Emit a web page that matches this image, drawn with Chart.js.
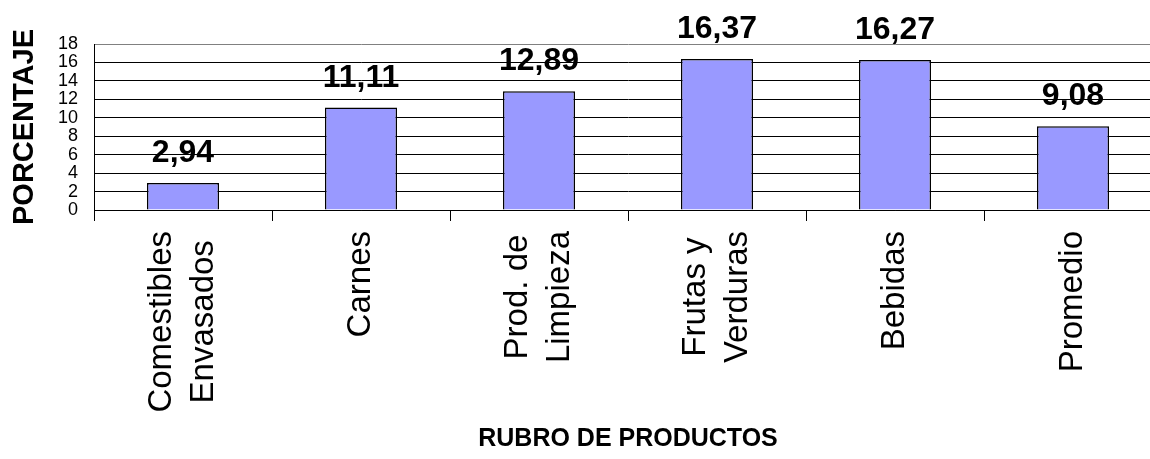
<!DOCTYPE html>
<html>
<head>
<meta charset="utf-8">
<script src="https://cdn.jsdelivr.net/npm/chart.js@4"></script>
<style>
  html, body { margin: 0; padding: 0; background: #fff; overflow: hidden; }
  #caja { width: 1162px; height: 459px; }
</style>
</head>
<body>
<div id="caja"><canvas id="grafico"></canvas></div>
<script>
// Rubros (eje X) y porcentajes de cada uno
const rubros = [
    ['Comestibles', 'Envasados'],
    'Carnes',
    ['Prod. de', 'Limpieza'],
    ['Frutas y', 'Verduras'],
    'Bebidas',
    'Promedio'
];
const porcentajes = [2.94, 11.11, 12.89, 16.37, 16.27, 9.08];
const marcasY = [0, 2, 4, 6, 8, 10, 12, 14, 16, 18];

const fuente = "'Liberation Sans', Arial, sans-serif";
const tamRubro = 33;
const altoLinea = 1.27;

// Escribe el valor encima de cada barra, con coma decimal
const etiquetasValor = {
    id: 'etiquetasValor',
    afterDatasetsDraw(chart) {
        const c = chart.ctx;
        const meta = chart.getDatasetMeta(0);
        c.save();
        c.font = 'bold 32px ' + fuente;
        c.fillStyle = '#000';
        c.textAlign = 'center';
        c.textBaseline = 'alphabetic';
        meta.data.forEach((barra, i) => {
            const texto = porcentajes[i].toFixed(2).replace('.', ',');
            c.fillText(texto, barra.x, barra.y - 21);
        });
        c.restore();
    }
};

// Centra los rótulos girados: las líneas entre sí y el bloque sobre su categoría
const centrarRubros = {
    id: 'centrarRubros',
    beforeDraw(chart) {
        const s = chart.scales.x;
        const items = s.getLabelItems();
        if (items._centrados) return;
        const c = chart.ctx;
        const lh = tamRubro * altoLinea;
        c.save();
        items.forEach(it => {
            const lineas = Array.isArray(it.label) ? it.label : [it.label];
            c.font = it.font.string;
            const ancho = Math.max(...lineas.map(l => c.measureText(l).width));
            it.options.textAlign = 'center';
            it.options.translation[1] += ancho / 2;
            it.options.translation[0] -= (lineas.length - 1) * lh / 2;
        });
        c.restore();
        items._centrados = true;
    }
};

const ctx = document.getElementById('grafico').getContext('2d');

const grafico = new Chart(ctx, {
    type: 'bar',
    data: {
        labels: rubros,
        datasets: [{
            data: porcentajes,
            backgroundColor: '#9999ff',
            borderColor: '#000',
            borderWidth: 1.5,
            categoryPercentage: 1,
            barPercentage: 0.405
        }]
    },
    options: {
        responsive: true,
        maintainAspectRatio: false,
        animation: false,
        layout: { padding: { top: 44, left: 0, right: 0, bottom: 0 } },
        plugins: {
            legend: { display: false },
            tooltip: { enabled: false }
        },
        scales: {
            x: {
                grid: {
                    offset: true,
                    drawOnChartArea: false,
                    drawTicks: true,
                    tickLength: 11,
                    tickColor: '#000'
                },
                border: { color: '#000', width: 1 },
                ticks: {
                    maxRotation: 90,
                    minRotation: 90,
                    autoSkip: false,
                    padding: 10,
                    color: '#000',
                    font: { family: fuente, size: tamRubro, lineHeight: altoLinea }
                },
                title: {
                    display: true,
                    text: 'RUBRO DE PRODUCTOS',
                    color: '#000',
                    font: { family: fuente, size: 25, weight: 'bold' },
                    padding: { top: 0, bottom: 5 }
                },
                afterFit(s) { s.height = 249; }
            },
            y: {
                min: 0,
                max: 18,
                afterBuildTicks(s) { s.ticks = marcasY.map(v => ({ value: v })); },
                grid: {
                    drawTicks: false,
                    color: c => c.tick && c.tick.value === 18 ? '#808080' : '#000',
                    lineWidth: 1
                },
                border: { color: '#000', width: 1 },
                ticks: {
                    autoSkip: false,
                    padding: 16,
                    color: '#000',
                    font: { family: fuente, size: 18, lineHeight: 1 }
                },
                title: {
                    display: true,
                    text: 'PORCENTAJE',
                    color: '#000',
                    font: { family: fuente, size: 29, weight: 'bold' },
                    padding: { top: 8, bottom: 0 }
                },
                afterFit(s) { s.width = 94; }
            }
        }
    },
    plugins: [etiquetasValor, centrarRubros]
});
</script>
</body>
</html>
